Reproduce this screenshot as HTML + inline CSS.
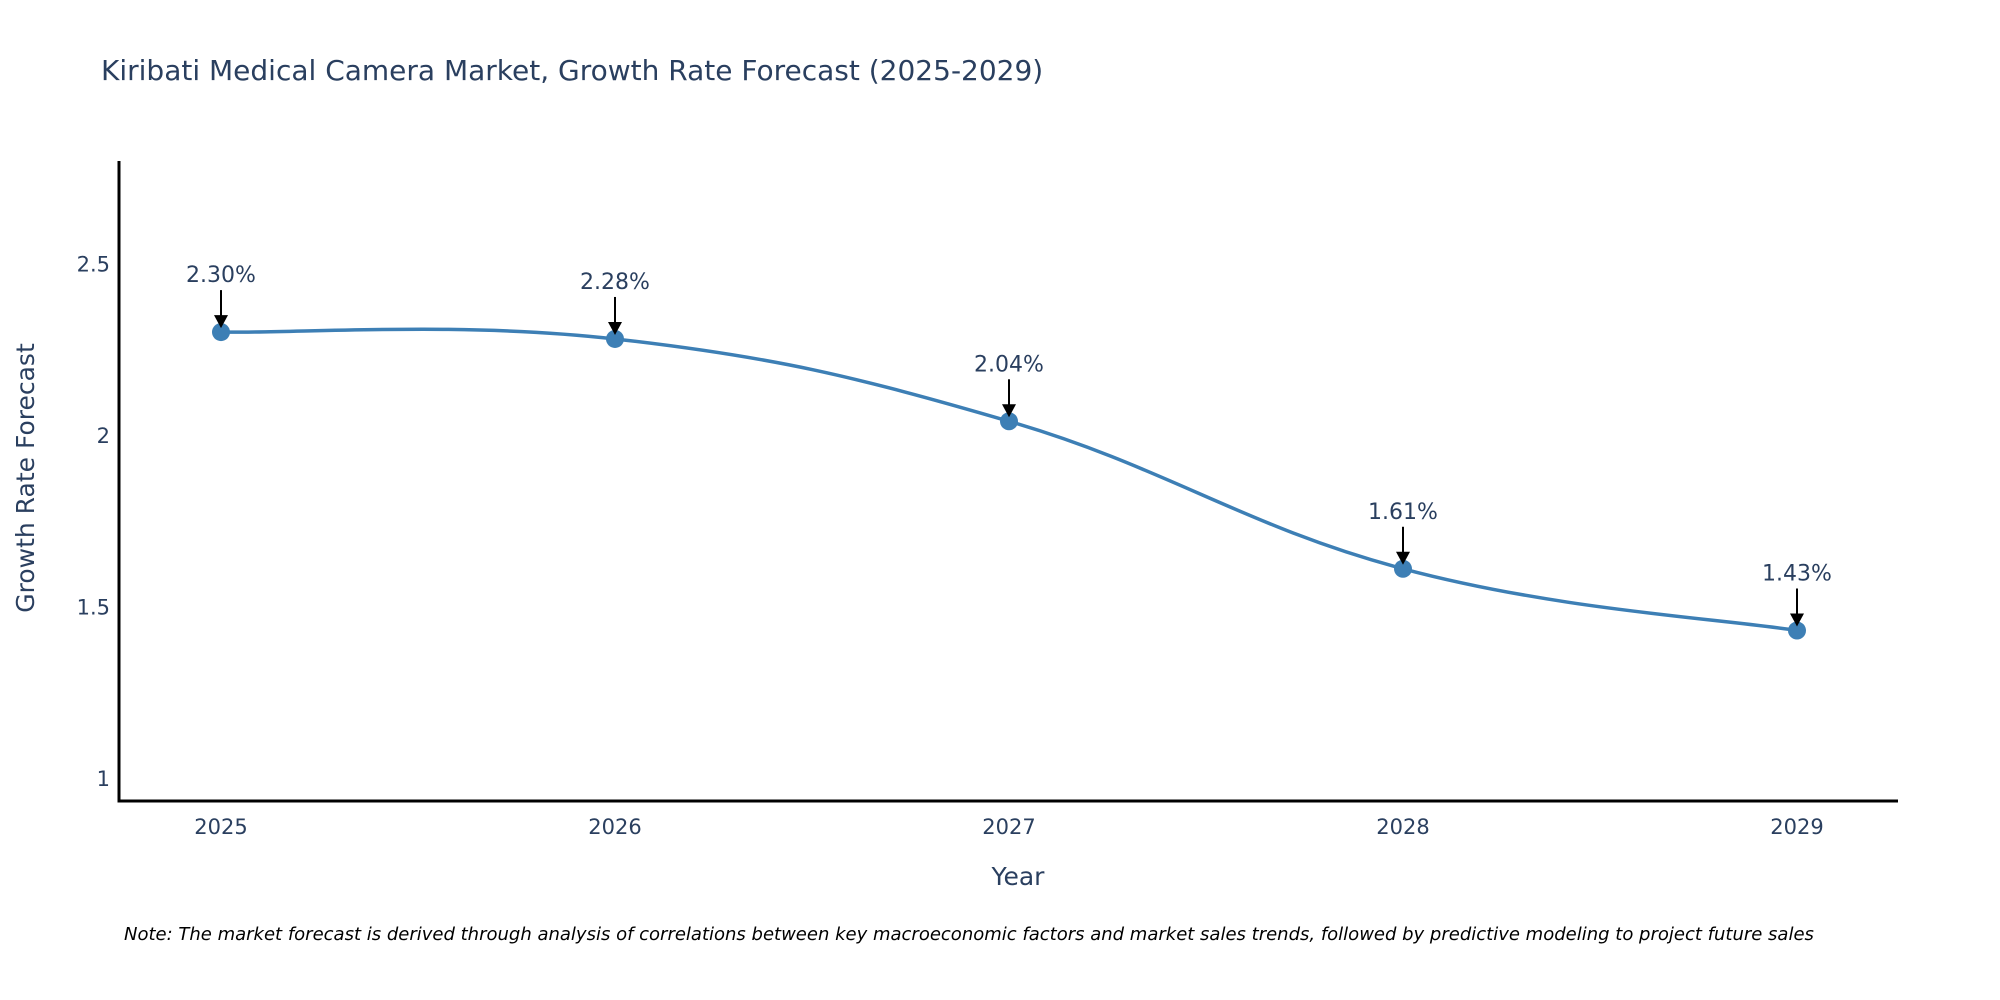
<!DOCTYPE html>
<html><head><meta charset="utf-8"><style>
body{margin:0;background:#fff}
svg{display:block;font-family:"DejaVu Sans","Liberation Sans",sans-serif}
</style></head><body>
<svg id="chart" width="2000" height="1000">
<text x="101" y="80" font-size="28" fill="#2a3f5f">Kiribati Medical Camera Market, Growth Rate Forecast (2025-2029)</text>
<g id="axes"></g>
<g id="series"></g>
<text x="1018" y="885" font-size="25" fill="#2a3f5f" text-anchor="middle">Year</text>
<text transform="translate(34,478) rotate(-90)" font-size="25" fill="#2a3f5f" text-anchor="middle">Growth Rate Forecast</text>
<text x="124" y="940" font-size="18" font-style="italic" fill="#000">Note: The market forecast is derived through analysis of correlations between key macroeconomic factors and market sales trends, followed by predictive modeling to project future sales</text>
</svg>
<script>
const years=[2025,2026,2027,2028,2029];
const values=[2.30,2.28,2.04,1.61,1.43];
const labels=["2.30%","2.28%","2.04%","1.61%","1.43%"];
const yTicks=[1,1.5,2,2.5];
const NS="http://www.w3.org/2000/svg";
const X=y=>221+(y-2025)*394;
const Y=v=>435-(v-2)*343;
function mk(t,a,p){const e=document.createElementNS(NS,t);for(const k in a)e.setAttribute(k,a[k]);p.appendChild(e);return e;}
const axes=document.getElementById('axes'),ser=document.getElementById('series');
let l=mk('line',{x1:119,y1:161,x2:119,y2:802,stroke:'#000','stroke-width':3},axes);


l=mk('line',{x1:117.5,y1:801,x2:1898,y2:801,stroke:'#000','stroke-width':3},axes);


yTicks.forEach(v=>{const t=mk('text',{x:110,y:Y(v)+8,'font-size':21,fill:'#2a3f5f','text-anchor':'end'},axes);t.textContent=String(v);

});
years.forEach(y=>{const t=mk('text',{x:X(y),y:834,'font-size':21,fill:'#2a3f5f','text-anchor':'middle'},axes);t.textContent=String(y);

});
const pts=years.map((y,i)=>[X(y),Y(values[i])]);
let d=`M${pts[0][0]},${pts[0][1]}`;
for(let i=0;i<pts.length-1;i++){const p0=pts[Math.max(i-1,0)],p1=pts[i],p2=pts[i+1],p3=pts[Math.min(i+2,pts.length-1)];const s=1/5;
d+=` C${p1[0]+(p2[0]-p0[0])*s},${p1[1]+(p2[1]-p0[1])*s} ${p2[0]-(p3[0]-p1[0])*s},${p2[1]-(p3[1]-p1[1])*s} ${p2[0]},${p2[1]}`;}
const path=mk('path',{d:d,fill:'none',stroke:'#3d7fb5','stroke-width':3.5},ser);


pts.forEach((p,i)=>{const c=mk('circle',{cx:p[0],cy:p[1],r:9,fill:'#3d7fb5'},ser);


const a=mk('line',{x1:p[0],y1:p[1]-42,x2:p[0],y2:p[1]-16,stroke:'#000','stroke-width':2},ser);


const h=mk('polygon',{points:`${p[0]-7},${p[1]-17} ${p[0]+7},${p[1]-17} ${p[0]},${p[1]-4}`,fill:'#000'},ser);


const t=mk('text',{x:p[0],y:p[1]-50,'font-size':22,fill:'#2a3f5f','text-anchor':'middle'},ser);t.textContent=labels[i];

});
</script>
</body></html>
